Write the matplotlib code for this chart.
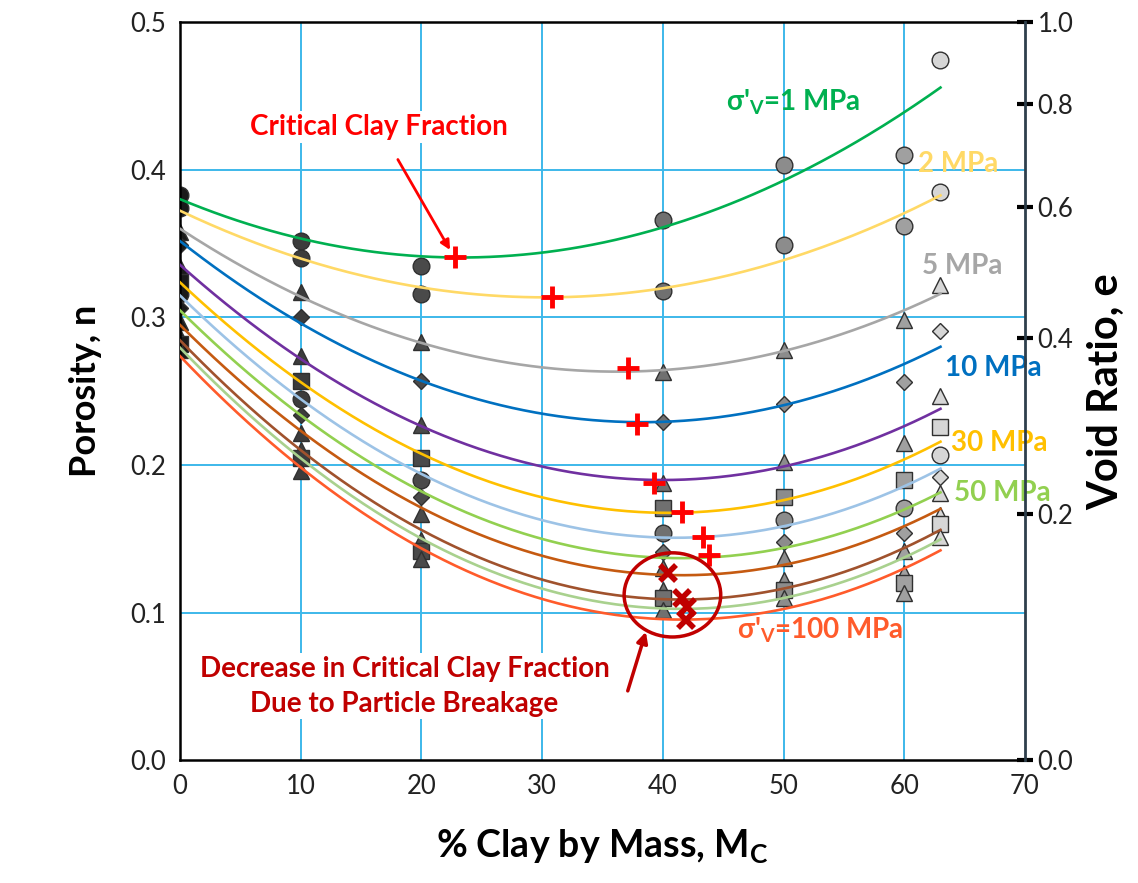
import numpy as np
import matplotlib
matplotlib.use("Agg")
import matplotlib.pyplot as plt
from matplotlib.patches import Ellipse

plt.rcParams['font.family'] = ['Lato', 'DejaVu Sans']
plt.rcParams['mathtext.fontset'] = 'custom'
plt.rcParams['mathtext.rm'] = 'Lato'
plt.rcParams['mathtext.bf'] = 'Lato:bold'
plt.rcParams['mathtext.it'] = 'Lato:italic'

# clay fractions (% by mass) of the tested mixtures
clay = [0, 10, 20, 40, 50, 60, 63]

# porosity at each clay fraction, one list per vertical stress
n_1mpa = [0.383, 0.352, 0.335, 0.366, 0.403, 0.410, 0.474]
n_2mpa = [0.374, 0.340, 0.316, 0.318, 0.349, 0.362, 0.385]
n_5mpa = [0.358, 0.317, 0.283, 0.263, 0.278, 0.298, 0.322]
n_10mpa = [0.349, 0.300, 0.257, 0.229, 0.241, 0.256, 0.291]
n_20mpa = [0.334, 0.274, 0.227, 0.188, 0.202, 0.215, 0.247]
n_30mpa = [0.324, 0.257, 0.205, 0.171, 0.178, 0.190, 0.226]
n_40mpa = [0.316, 0.245, 0.190, 0.154, 0.163, 0.171, 0.207]
n_50mpa = [0.306, 0.234, 0.178, 0.141, 0.148, 0.154, 0.192]
n_60mpa = [0.297, 0.222, 0.167, 0.130, 0.137, 0.142, 0.181]
n_70mpa = [0.287, 0.210, 0.149, 0.115, 0.122, 0.127, 0.166]
n_80mpa = [0.282, 0.205, 0.142, 0.110, 0.115, 0.120, 0.160]
n_100mpa = [0.278, 0.196, 0.136, 0.102, 0.110, 0.113, 0.151]

porosity = [n_1mpa, n_2mpa, n_5mpa, n_10mpa, n_20mpa, n_30mpa,
            n_40mpa, n_50mpa, n_60mpa, n_70mpa, n_80mpa, n_100mpa]

# critical clay fraction (minimum of each trend)
crit_clay_plus = [22.8, 30.8, 37.1, 37.9, 39.3, 41.6, 43.3, 43.8]
crit_n_plus = [0.341, 0.314, 0.266, 0.228, 0.188, 0.168, 0.151, 0.139]
crit_clay_x = [40.4, 41.6, 42.0, 41.9]
crit_n_x = [0.127, 0.110, 0.104, 0.095]

# void ratio ticks for the right axis
void_ratio_ticks = [0.0, 0.2, 0.4, 0.6, 0.8, 1.0]

line_colors = ['#00B050', '#FFD966', '#A6A6A6', '#0070C0', '#7030A0', '#FFC000',
               '#9DC3E6', '#92D050', '#C55A11', '#A0522D', '#A9D18E', '#FF5B2B']
shapes = ['o', 'o', '^', 'D', '^', 's', 'o', 'D', '^', '^', 's', '^']
fills = ['#1a1a1a', '#3c3c3c', '#4a4a4a', '#707070', '#8c8c8c', '#a0a0a0', '#d6d6d6']

fig = plt.figure(figsize=(11.38, 8.83), dpi=100)
ax = fig.add_axes([0.158, 0.139, 0.7427, 0.836])

grid_c = '#3DB8EA'
for xv in range(10, 70, 10):
    ax.axvline(xv, color=grid_c, lw=1.4, zorder=0)
for yv in [0.1, 0.2, 0.3, 0.4]:
    ax.axhline(yv, color=grid_c, lw=1.4, zorder=0)

# data markers, shaded by clay fraction
for k, vals in enumerate(porosity):
    for j, c in enumerate(clay):
        size = 8.5 if shapes[k] == 'D' else 12
        ax.plot(c, vals[j], marker=shapes[k], ms=size, mfc=fills[j],
                mec='#303030', mew=1.0, ls='none', zorder=2)

# polynomial trend lines
xs = np.linspace(0, 63, 200)
for k, vals in enumerate(porosity):
    coef = np.polyfit(clay, vals, 2)
    ax.plot(xs, np.polyval(coef, xs), color=line_colors[k], lw=1.9, zorder=3)

ax.plot(crit_clay_plus, crit_n_plus, ls='none', marker='+', ms=16, mew=3.5,
        color='#FF0000', zorder=5)
ax.plot(crit_clay_x, crit_n_x, ls='none', marker='x', ms=11, mew=4,
        color='#C00000', zorder=5)

ax.add_patch(Ellipse((40.8, 0.112), 8.0, 0.057, fill=False,
                     edgecolor='#C00000', lw=2.5, zorder=6))

ax.set_xlim(0, 70)
ax.set_ylim(0, 0.5)
ax.set_xticks(range(0, 80, 10))
ax.set_yticks(np.arange(0, 0.51, 0.1))
ax.set_yticklabels([f'{v:.1f}' for v in np.arange(0, 0.51, 0.1)])
ax.tick_params(length=0, labelsize=18.5, colors='#222222', pad=10)
for sp in ['left', 'bottom', 'top']:
    ax.spines[sp].set_linewidth(1.8)
    ax.spines[sp].set_color('black')
ax.spines['right'].set_visible(False)

ax.set_xlabel(r'% Clay by Mass, M$_\mathbf{C}$', fontsize=27,
              fontweight='bold', labelpad=20)
ax.set_ylabel('Porosity, n', fontsize=26, fontweight='bold', labelpad=20)

# right axis: void ratio e = n / (1 - n)
ax2 = ax.twinx()
ax2.set_ylim(0, 0.5)
ax2.set_yticks([e / (1 + e) for e in void_ratio_ticks])
ax2.set_yticklabels([f'{e:.1f}' for e in void_ratio_ticks])
ax2.tick_params(direction='inout', length=12, width=3, color='black',
                labelsize=18.5, labelcolor='#222222', pad=3)
ax2.spines['right'].set_color('#2E3F4C')
ax2.spines['right'].set_linewidth(2)
for sp in ['left', 'bottom', 'top']:
    ax2.spines[sp].set_visible(False)
ax2.set_ylabel('Void Ratio, e', fontsize=30, fontweight='bold', labelpad=10)

# annotations
ax.annotate('Critical Clay Fraction', xy=(22.5, 0.344), xytext=(16.5, 0.429),
            ha='center', va='center', fontsize=20, fontweight='bold',
            color='#FF0000', zorder=7,
            bbox=dict(facecolor='white', edgecolor='none', pad=2),
            arrowprops=dict(arrowstyle='-|>', color='#FF0000', lw=2,
                            mutation_scale=14, shrinkA=14))
ax.text(18.6, 0.050, 'Decrease in Critical Clay Fraction\nDue to Particle Breakage',
        ha='center', va='center', fontsize=20, fontweight='bold',
        color='#C00000', zorder=7, linespacing=1.4,
        bbox=dict(facecolor='white', edgecolor='none', pad=2))
ax.annotate('', xy=(38.6, 0.087), xytext=(37.1, 0.047),
            arrowprops=dict(arrowstyle='-|>', color='#C00000', lw=2.5,
                            mutation_scale=16, shrinkA=0, shrinkB=0), zorder=7)

lab_kw = dict(fontsize=20, fontweight='bold', ha='center', va='center', zorder=7)
ax.text(50.8, 0.446, r"σ'$_\mathbf{V}$=1 MPa", color='#00B050', **lab_kw)
ax.text(64.5, 0.404, '2 MPa', color='#FFD966', **lab_kw)
ax.text(64.8, 0.335, '5 MPa', color='#A6A6A6', **lab_kw)
ax.text(67.4, 0.266, '10 MPa', color='#0070C0', **lab_kw)
ax.text(67.9, 0.215, '30 MPa', color='#FFC000', **lab_kw)
ax.text(68.1, 0.181, '50 MPa', color='#92D050', **lab_kw)
ax.text(53.0, 0.088, r"σ'$_\mathbf{V}$=100 MPa", color='#FF5B2B', **lab_kw)

fig.savefig('out.png', dpi=100)
